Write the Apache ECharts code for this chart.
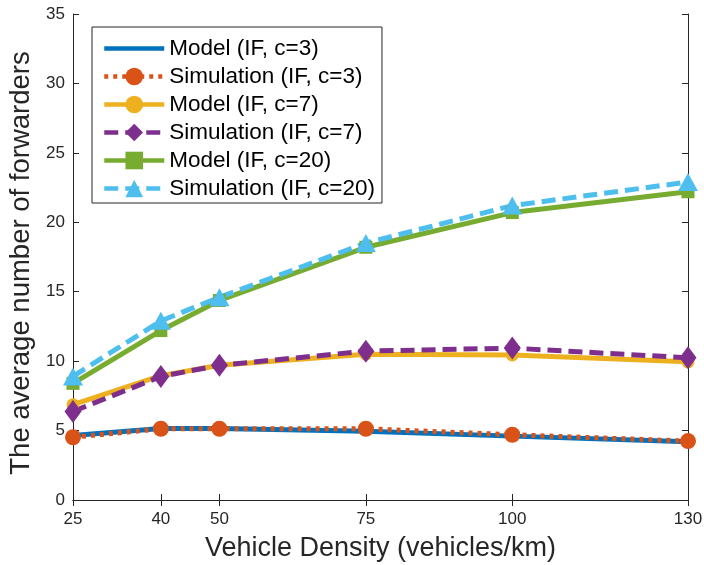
<!DOCTYPE html>
<html>
<head>
<meta charset="utf-8">
<script src="https://cdn.jsdelivr.net/npm/echarts@6/dist/echarts.min.js"></script>
<style>html,body{margin:0;padding:0;background:#fff;}#c{width:704px;height:565px;}</style>
</head>
<body>
<div id="c"></div>
<script>
var densities = [25, 40, 50, 75, 100, 130];
var xTicks = [25, 40, 50, 75, 100, 130];
var modelC3 = [4.65, 5.15, 5.15, 4.95, 4.6, 4.2];
var simC3 = [4.52, 5.13, 5.13, 5.13, 4.7, 4.24];
var modelC7 = [6.86, 8.95, 9.7, 10.5, 10.45, 9.95];
var simC7 = [6.38, 8.9, 9.7, 10.72, 10.94, 10.24];
var modelC20 = [8.4, 12.2, 14.37, 18.2, 20.7, 22.2];
var simC20 = [8.9, 12.9, 14.6, 18.5, 21.2, 22.9];
var names = ['Model (IF, c=3)', 'Simulation (IF, c=3)', 'Model (IF, c=7)', 'Simulation (IF, c=7)', 'Model (IF, c=20)', 'Simulation (IF, c=20)'];

function pairs(v) { return densities.map(function (d, i) { return [d, v[i]]; }); }

var axisColor = '#262626';
var font = 'Liberation Sans, Arial, Helvetica, sans-serif';

function mk(name, data, color, type, dash, symbol, size) {
  return {
    name: name, type: 'line', data: pairs(data),
    symbol: symbol || 'none', symbolSize: size || 0, showSymbol: !!symbol,
    itemStyle: { color: color, borderWidth: 0 },
    lineStyle: { color: color, width: 5, type: type === 'solid' ? 'solid' : dash, cap: 'butt' },
    emphasis: { disabled: true }, animation: false
  };
}

var legendData = names.map(function (n, i) {
  var d = { name: n };
  if (i === 0) d.itemStyle = { opacity: 0 };
  return d;
});

var chart = echarts.init(document.getElementById('c'), null, { renderer: 'canvas' });
chart.setOption({
  backgroundColor: '#fff',
  animation: false,
  grid: { left: 73, right: 16, top: 14, bottom: 65, containLabel: false, outerBoundsMode: 'none' },
  legend: {
    left: 92, top: 27, orient: 'vertical',
    backgroundColor: '#fff', borderColor: axisColor, borderWidth: 1, borderRadius: 0,
    padding: [10, 7, 3, 10], itemGap: 5, itemWidth: 60, itemHeight: 22,
    lineStyle: { width: 4.5 },
    textStyle: { fontFamily: font, fontSize: 22.5, color: '#000', lineHeight: 22 },
    data: legendData
  },
  xAxis: [{
    type: 'value', min: 25, max: 130,
    name: 'Vehicle Density (vehicles/km)', nameLocation: 'middle', nameGap: 35,
    nameTextStyle: { fontFamily: font, fontSize: 27, color: axisColor },
    axisLine: { lineStyle: { color: axisColor, width: 1 } },
    axisTick: { inside: true, length: 6, customValues: xTicks, lineStyle: { color: axisColor } },
    axisLabel: { customValues: xTicks, fontFamily: font, fontSize: 17, color: axisColor, margin: 11 },
    splitLine: { show: false }
  }, {
    type: 'value', min: 25, max: 130, position: 'top',
    axisLine: { lineStyle: { color: axisColor, width: 1 } },
    axisTick: { inside: true, length: 6, customValues: xTicks, lineStyle: { color: axisColor } },
    axisLabel: { show: false }, splitLine: { show: false }
  }],
  yAxis: [{
    type: 'value', min: 0, max: 35, interval: 5,
    name: 'The average number of forwarders', nameLocation: 'middle', nameGap: 31,
    nameTextStyle: { fontFamily: font, fontSize: 27.5, color: axisColor, padding: [0, 12, 0, 0] },
    axisLine: { show: true, lineStyle: { color: axisColor, width: 1 } },
    axisTick: { show: true, inside: true, length: 6, lineStyle: { color: axisColor } },
    axisLabel: { fontFamily: font, fontSize: 17, color: axisColor, margin: 8 },
    splitLine: { show: false }
  }, {
    type: 'value', min: 0, max: 35, interval: 5, position: 'right',
    axisLine: { show: true, lineStyle: { color: axisColor, width: 1 } },
    axisTick: { show: true, inside: true, length: 6, lineStyle: { color: axisColor } },
    axisLabel: { show: false }, splitLine: { show: false }
  }],
  series: [
    mk(names[0], modelC3, '#0072BD', 'solid'),
    mk(names[1], simC3, '#D95319', 'dot', [4, 5], 'circle', 16),
    mk(names[2], modelC7, '#EDB120', 'solid', null, 'circle', 13),
    mk(names[3], simC7, '#7E2F8E', 'dash', [14, 7], 'diamond', [17, 23]),
    mk(names[4], modelC20, '#77AC30', 'solid', null, 'rect', 13),
    mk(names[5], simC20, '#4DBEEE', 'dash', [14, 7], 'triangle', [20, 18])
  ]
});
</script>
</body>
</html>
